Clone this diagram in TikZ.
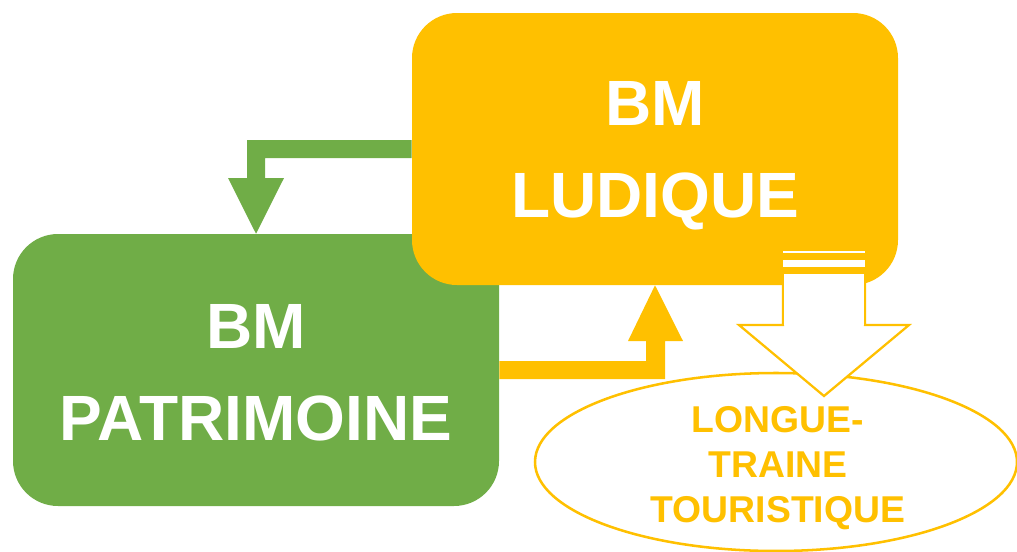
\documentclass[tikz,border=0pt]{standalone}
\usepackage{fontspec}
\setmainfont{Liberation Sans}
\usetikzlibrary{shapes.geometric,calc}
\definecolor{bmgreen}{HTML}{70AD47}
\definecolor{bmgold}{HTML}{FFC000}
\tikzset{
  x=0.75pt,y=-0.75pt,
  bmbox/.style={rectangle,rounded corners=33.75pt,minimum width=364.5pt,minimum height=204pt,inner sep=0pt},
  bmlabel/.style={align=center,text=white,inner sep=0pt,font=\bfseries\fontsize{48}{69}\selectfont},
  tail/.style={ellipse,draw=bmgold,line width=1.9pt,fill=white,minimum width=361.5pt,minimum height=133.5pt,inner sep=0pt},
  taillabel/.style={align=center,text=bmgold,inner sep=0pt,font=\bfseries\fontsize{28}{33.75}\selectfont},
  hollow/.style={draw=bmgold,line width=1.7pt,fill=white,line join=miter},
  stripe/.style={fill=white,draw=none}
}
\begin{document}
\begin{tikzpicture}
\useasboundingbox (0,0) rectangle (1017,551);
\node[bmbox,fill=bmgreen] (patrimoine) at (256,370) {};
\node[bmlabel] (patrimoinetext) at (256,373) {BM\\PATRIMOINE};
\node[bmbox,fill=bmgold] (ludique) at (655,149) {};
\node[bmlabel] (ludiquetext) at (655,156) {BM\\LUDIQUE};
% green block connector: ludique -> patrimoine
\fill[bmgreen] (ludique.west |- 0,140) -- (247,140) -- (247,178) -- (228,178)
  -- (patrimoine.north) -- (284,178) -- (265,178) -- (265,158) -- (ludique.west |- 0,158) -- cycle;
% gold block connector: patrimoine -> ludique
\fill[bmgold] (patrimoine.east |- 0,361) -- (646,361) -- (646,341) -- (628,341)
  -- (ludique.south) -- (683,341) -- (665,341) -- (665,379) -- (patrimoine.east |- 0,379) -- cycle;
% ellipse and label
\node[tail] (longue) at (776,462) {};
\node[taillabel] (longuetext) at (778,468) {LONGUE-\\TRAINE\\TOURISTIQUE};
% striped hollow arrow
\coordinate (tip) at (824,396);
\path[stripe] (783,251) rectangle (865,253);
\path[stripe] (783,260) rectangle (865,267);
\draw[hollow] (783,274) -- (783,325) -- (739,325) -- (tip) -- (909,325) -- (865,325) -- (865,274);
\path[stripe] (784,274) rectangle (864,325);
\end{tikzpicture}
\end{document}
